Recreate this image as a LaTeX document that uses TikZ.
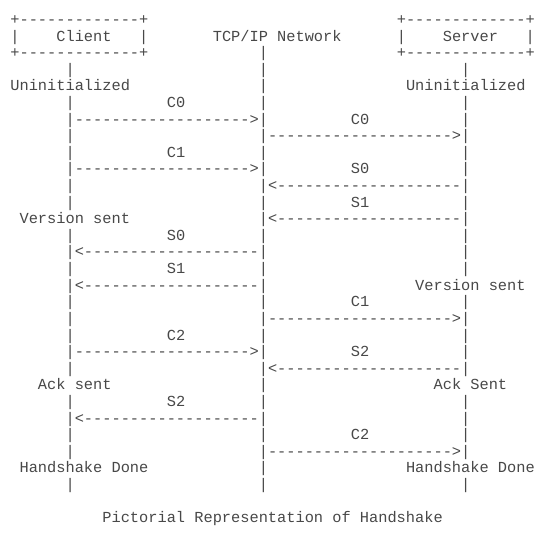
\documentclass[tikz,border=0pt]{standalone}
\usepackage{fontspec}
\setmonofont{Liberation Mono}
\definecolor{ink}{RGB}{72,72,72}
\tikzset{txt/.style={anchor=base west, inner sep=0pt, outer sep=0pt,
  font=\ttfamily\fontsize{15.33}{18}\selectfont, text=ink}}
% row, column, text
\newcommand\tx[3]{\node[txt] (t#1-#2) at ({10.4+9.2*#2},{24.6+16.6*#1}) {#3};}
\newcommand\dfive{-----}
% client <-> network arrows: 19 dashes; network <-> server arrows: 20 dashes
\newcommand\crarrow{|\dfive\dfive\dfive---->|}
\newcommand\clarrow{|<\dfive\dfive\dfive----|}
\newcommand\srarrow{|\dfive\dfive\dfive\dfive>|}
\newcommand\slarrow{|<\dfive\dfive\dfive\dfive|}
\newcommand\boxline{+\dfive\dfive---+}
\begin{document}
\begin{tikzpicture}[x=1pt,y=-1pt]
\fill[white] (0,0) rectangle (554,537);
\useasboundingbox (0,0) rectangle (554,537);
% header boxes
\tx{0}{0}{\boxline}
\tx{0}{42}{\boxline}
\tx{1}{0}{|}\tx{1}{5}{Client}\tx{1}{14}{|}
\tx{1}{22}{TCP/IP Network}
\tx{1}{42}{|}\tx{1}{47}{Server}\tx{1}{56}{|}
\tx{2}{0}{\boxline}\tx{2}{27}{|}\tx{2}{42}{\boxline}
\tx{3}{6}{|}\tx{3}{27}{|}\tx{3}{49}{|}
\tx{4}{0}{Uninitialized}\tx{4}{27}{|}\tx{4}{43}{Uninitialized}
\tx{5}{6}{|}\tx{5}{17}{C0}\tx{5}{27}{|}\tx{5}{49}{|}
\tx{6}{6}{\crarrow}\tx{6}{37}{C0}\tx{6}{49}{|}
\tx{7}{6}{|}\tx{7}{27}{\srarrow}
\tx{8}{6}{|}\tx{8}{17}{C1}\tx{8}{27}{|}\tx{8}{49}{|}
\tx{9}{6}{\crarrow}\tx{9}{37}{S0}\tx{9}{49}{|}
\tx{10}{6}{|}\tx{10}{27}{\slarrow}
\tx{11}{6}{|}\tx{11}{27}{|}\tx{11}{37}{S1}\tx{11}{49}{|}
\tx{12}{1}{Version sent}\tx{12}{27}{\slarrow}
\tx{13}{6}{|}\tx{13}{17}{S0}\tx{13}{27}{|}\tx{13}{49}{|}
\tx{14}{6}{\clarrow}\tx{14}{49}{|}
\tx{15}{6}{|}\tx{15}{17}{S1}\tx{15}{27}{|}\tx{15}{49}{|}
\tx{16}{6}{\clarrow}\tx{16}{44}{Version sent}
\tx{17}{6}{|}\tx{17}{27}{|}\tx{17}{37}{C1}\tx{17}{49}{|}
\tx{18}{6}{|}\tx{18}{27}{\srarrow}
\tx{19}{6}{|}\tx{19}{17}{C2}\tx{19}{27}{|}\tx{19}{49}{|}
\tx{20}{6}{\crarrow}\tx{20}{37}{S2}\tx{20}{49}{|}
\tx{21}{6}{|}\tx{21}{27}{\slarrow}
\tx{22}{3}{Ack sent}\tx{22}{27}{|}\tx{22}{46}{Ack Sent}
\tx{23}{6}{|}\tx{23}{17}{S2}\tx{23}{27}{|}\tx{23}{49}{|}
\tx{24}{6}{\clarrow}\tx{24}{49}{|}
\tx{25}{6}{|}\tx{25}{27}{|}\tx{25}{37}{C2}\tx{25}{49}{|}
\tx{26}{6}{|}\tx{26}{27}{\srarrow}
\tx{27}{1}{Handshake Done}\tx{27}{27}{|}\tx{27}{43}{Handshake Done}
\tx{28}{6}{|}\tx{28}{27}{|}\tx{28}{49}{|}
\tx{30}{10}{Pictorial Representation of Handshake}
\end{tikzpicture}
\end{document}
